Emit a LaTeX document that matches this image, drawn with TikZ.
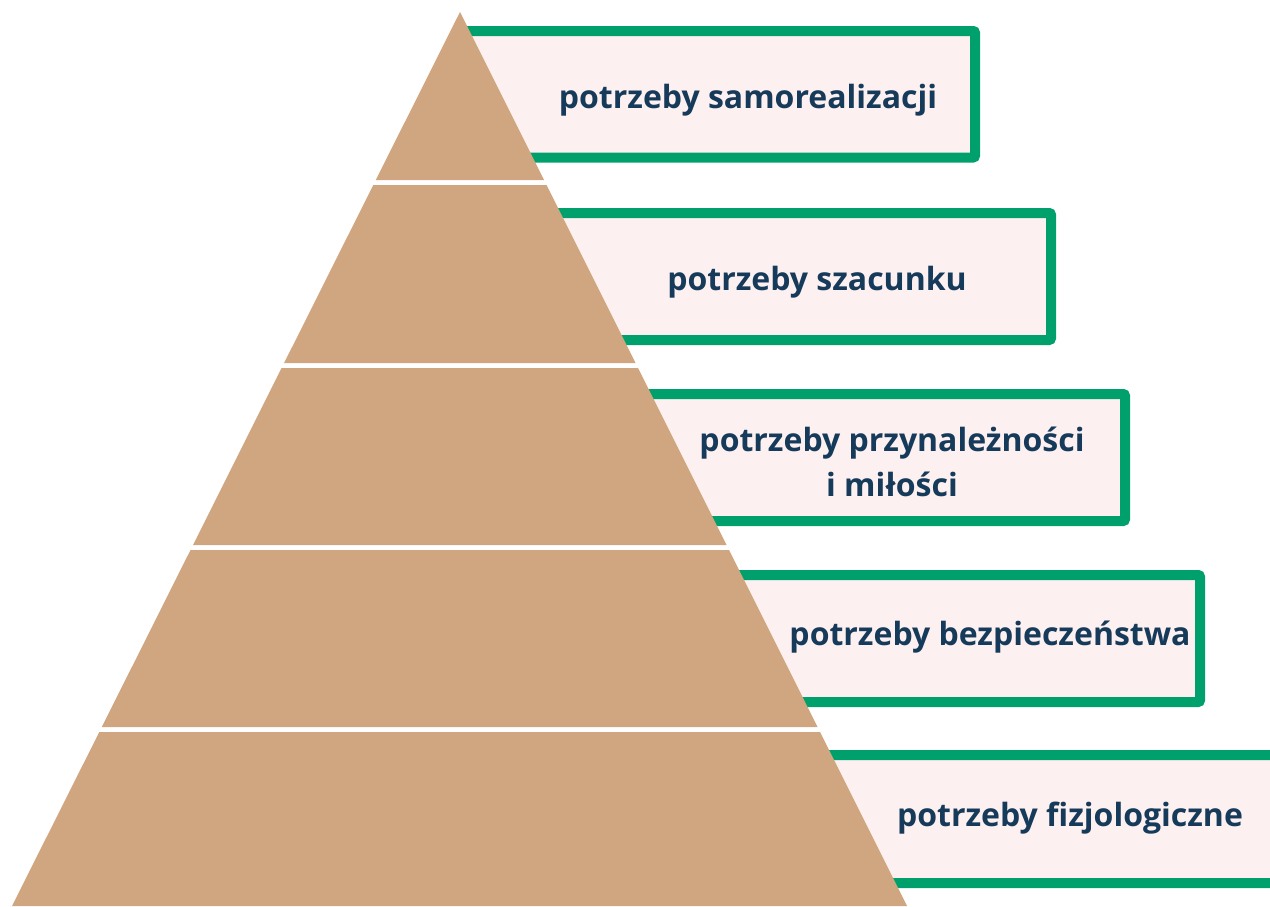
\documentclass[tikz,border=0pt]{standalone}
\usepackage{fontspec}
\setmainfont{Open Sans}
\definecolor{sand}{HTML}{D0A680}
\definecolor{leaf}{HTML}{00A06C}
\definecolor{blush}{HTML}{FDF0F0}
\definecolor{navy}{HTML}{163A59}
\tikzset{
  needbox/.style={draw=leaf,fill=blush,line width=10pt,rounded corners=2pt},
  needtext/.style={text=navy,font=\fontsize{32}{45}\selectfont\bfseries,align=center}
}
\begin{document}
\begin{tikzpicture}[x=1pt,y=-1pt]
\useasboundingbox (0,0) rectangle (1270,906);
\clip (0,0) rectangle (1270,906);
\draw[needbox] (460,31) rectangle (975,157.5);
\draw[needbox] (460,213) rectangle (1051,340);
\draw[needbox] (460,394) rectangle (1125,521);
\draw[needbox] (460,575) rectangle (1200,702);
\draw[needbox] (460,755) rectangle (1300,883);
\fill[sand] (460,12) -- (544,180) -- (375.8,180) -- cycle;
\fill[sand] (373.3,185) -- (546.5,185) -- (635.5,363) -- (284.1,363) -- cycle;
\fill[sand] (281.6,368) -- (638,368) -- (726.5,545) -- (193,545) -- cycle;
\fill[sand] (190.5,550) -- (729,550) -- (817.5,727) -- (101.8,727) -- cycle;
\fill[sand] (99.3,732) -- (820,732) -- (907,906) -- (12,906) -- cycle;
\node[needtext] (selfreal) at (748,100) {potrzeby samorealizacji};
\node[needtext] (esteem) at (817,282) {potrzeby szacunku};
\node[needtext] (belong) at (892,462) {potrzeby przynależności\\i miłości};
\node[needtext] (safety) at (990,637) {potrzeby bezpieczeństwa};
\node[needtext] (physio) at (1070,818) {potrzeby fizjologiczne};
\end{tikzpicture}
\end{document}
